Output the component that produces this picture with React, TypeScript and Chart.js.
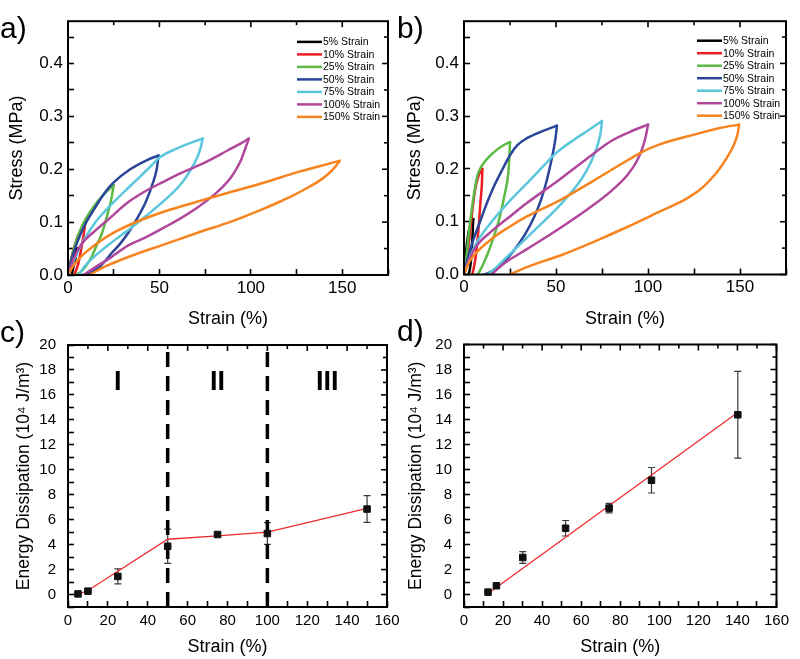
import React, { useEffect, useRef } from "react";
import { Chart, registerables } from "chart.js";
Chart.register(...registerables);

const CW = 800;
const CH = 659;
const FONT = "'Liberation Sans', Arial, Helvetica, sans-serif";

// ---------- Panels a & b : stress-strain hysteresis loops ----------
const strainLabels = ["5% Strain", "10% Strain", "25% Strain", "50% Strain", "75% Strain", "100% Strain", "150% Strain"];
const loopColors = ["#000000", "#ed1c24", "#5cb946", "#2b4699", "#5bc6dc", "#b0479d", "#f6841f"];

// panel a: [strain %, stress MPa]
const a5Up = [[0, 0], [1.5, 0.02], [3, 0.035], [5, 0.05]];
const a5Down = [[5, 0.05], [4, 0.03], [3, 0.015], [2, 0]];
const a10Up = [[0, 0], [2, 0.035], [5, 0.07], [7.5, 0.088], [9.5, 0.1]];
const a10Down = [[9.5, 0.1], [8.5, 0.075], [7, 0.045], [5.5, 0.02], [4, 0.005], [3, 0]];
const a25Up = [[0, 0], [2.5, 0.04], [5, 0.07], [7.3, 0.09], [10, 0.108], [14.6, 0.132], [20, 0.154], [25, 0.17]];
const a25Down = [[25, 0.17], [23.5, 0.14], [22, 0.12], [18.5, 0.078], [15.5, 0.055], [13, 0.035], [10, 0.018], [7, 0.006], [4, 0]];
const a50Up = [[0, 0], [2, 0.03], [5.4, 0.065], [10, 0.1], [14.6, 0.126], [20, 0.155], [25, 0.175], [34, 0.2], [43, 0.217], [49.5, 0.226]];
const a50Down = [[49.5, 0.226], [48.5, 0.2], [46, 0.17], [42.5, 0.138], [38, 0.108], [33, 0.08], [28, 0.057], [24, 0.042], [18, 0.018], [12, 0.005], [8, 0]];
const a75Up = [[0, 0], [3.5, 0.03], [8, 0.062], [14.6, 0.098], [20, 0.12], [25, 0.138], [33, 0.165], [40, 0.188], [46.5, 0.21], [50, 0.222], [60, 0.24], [67, 0.25], [73.7, 0.258]];
const a75Down = [[73.7, 0.258], [72.5, 0.24], [70.9, 0.224], [67.3, 0.2], [61.8, 0.172], [52.7, 0.141], [43.5, 0.114], [34.4, 0.089], [25.2, 0.065], [16.1, 0.04], [8.8, 0.015], [6, 0]];
const a100Up = [[0, 0], [3, 0.03], [7.3, 0.058], [14.6, 0.083], [22, 0.105], [33, 0.138], [42, 0.158], [51.5, 0.175], [62, 0.193], [75, 0.213], [87, 0.235], [95, 0.25], [98.9, 0.258]];
const a100Down = [[98.9, 0.258], [96.5, 0.235], [94.7, 0.218], [92, 0.2], [89.2, 0.185], [85, 0.168], [80, 0.152], [71, 0.128], [62, 0.108], [52.7, 0.09], [43, 0.072], [33, 0.056], [22, 0.03], [14.6, 0.014], [8.5, 0]];
const a150Up = [[0, 0], [3, 0.018], [6.9, 0.034], [16, 0.06], [25, 0.08], [34.4, 0.096], [52.7, 0.12], [71, 0.139], [89, 0.157], [107.5, 0.175], [126, 0.195], [140, 0.208], [148.6, 0.216]];
const a150Down = [[148.6, 0.216], [146, 0.204], [142, 0.19], [137, 0.177], [131, 0.165], [124, 0.152], [116, 0.139], [107.5, 0.126], [89.2, 0.101], [70.9, 0.08], [52.7, 0.058], [34.4, 0.036], [21.6, 0.018], [11.5, 0]];

// panel b
const b5Up = [[0, 0], [1, 0.04], [2.5, 0.08], [4, 0.1], [5, 0.105]];
const b5Down = [[5, 0.105], [4.6, 0.07], [4, 0.035], [3.2, 0.01], [2.5, 0]];
const b10Up = [[0, 0], [1.5, 0.03], [3, 0.07], [4.5, 0.12], [6, 0.16], [8, 0.188], [10, 0.2]];
const b10Down = [[10, 0.2], [9.7, 0.17], [9, 0.14], [8.2, 0.1], [7.2, 0.06], [6, 0.025], [4.5, 0]];
const b25Up = [[0, 0], [1.5, 0.04], [3, 0.09], [4.5, 0.13], [6, 0.165], [7.5, 0.19], [9.5, 0.205], [12, 0.217], [16, 0.231], [21, 0.244], [25, 0.251]];
const b25Down = [[25, 0.251], [24.7, 0.225], [24, 0.19], [22, 0.15], [19.5, 0.11], [16.5, 0.075], [13.5, 0.045], [10.5, 0.02], [7.5, 0]];
const b50Up = [[0, 0], [2, 0.03], [5, 0.065], [8.7, 0.1], [12.4, 0.135], [16, 0.165], [21, 0.2], [25, 0.226], [29, 0.245], [34, 0.258], [43, 0.272], [50.5, 0.282]];
const b50Down = [[50.5, 0.282], [49.8, 0.26], [48.6, 0.235], [46.8, 0.205], [44.5, 0.172], [41.5, 0.138], [38, 0.108], [33, 0.075], [27, 0.045], [20, 0.018], [14, 0.004], [11, 0]];
const b75Up = [[0, 0], [4, 0.04], [8, 0.067], [15, 0.1], [25, 0.14], [34, 0.172], [43, 0.205], [50, 0.23], [60, 0.256], [67, 0.272], [75, 0.291]];
const b75Down = [[75, 0.291], [74.3, 0.27], [73, 0.25], [70.5, 0.225], [66.5, 0.196], [61.4, 0.169], [52.3, 0.132], [43.2, 0.1], [34.2, 0.07], [25, 0.039], [18, 0.015], [13, 0]];
const b100Up = [[0, 0], [3, 0.03], [7, 0.055], [16, 0.085], [25, 0.11], [34, 0.135], [52, 0.18], [70, 0.228], [80, 0.253], [90, 0.27], [100, 0.284]];
const b100Down = [[100, 0.284], [98.8, 0.262], [97, 0.24], [94.1, 0.216], [88.7, 0.188], [79.6, 0.157], [70.5, 0.132], [52.3, 0.088], [34.2, 0.048], [21.4, 0.02], [15, 0]];
const b150Up = [[0, 0], [2, 0.018], [5.1, 0.035], [16, 0.07], [25, 0.091], [34.2, 0.11], [52.3, 0.141], [70.5, 0.178], [88.7, 0.216], [97.7, 0.234], [106.8, 0.247], [125, 0.265], [139.5, 0.278], [149.5, 0.284]];
const b150Down = [[149.5, 0.284], [148.8, 0.268], [147.5, 0.253], [145.5, 0.237], [143, 0.222], [139, 0.201], [134, 0.18], [128, 0.16], [120, 0.142], [106.8, 0.12], [88.7, 0.09], [70.5, 0.062], [52.3, 0.036], [34.2, 0.014], [25, 0]];

const aLoading = [a5Up, a10Up, a25Up, a50Up, a75Up, a100Up, a150Up];
const aUnloading = [a5Down, a10Down, a25Down, a50Down, a75Down, a100Down, a150Down];
const bLoading = [b5Up, b10Up, b25Up, b50Up, b75Up, b100Up, b150Up];
const bUnloading = [b5Down, b10Down, b25Down, b50Down, b75Down, b100Down, b150Down];

const loopXTicks = [0, 50, 100, 150];
const loopXMinor = [25, 75, 125, 175];
const loopYTicks = [0, 0.1, 0.2, 0.3, 0.4];
const loopYMinor = [0.05, 0.15, 0.25, 0.35, 0.45];

// ---------- Panels c & d : energy dissipation ----------
const cStrain = [5, 10, 25, 50, 75, 100, 150];
const cEnergy = [0.05, 0.27, 1.45, 3.87, 4.81, 4.89, 6.85];
const cError = [0.05, 0.1, 0.6, 1.37, 0.15, 0.87, 1.07];
const cFitStrain = [5, 10, 50, 75, 100, 150];
const cFitEnergy = [0.02, 0.32, 4.43, 4.7, 5.0, 6.9];
const cBoundaries = [50, 100];
const regionNames = ["I", "II", "III"];
const regionCenters = [25, 75, 130];
const regionLevel = 17;

const dStrain = [12.3, 16.6, 30.1, 52, 74.3, 96, 140.2];
const dEnergy = [0.19, 0.7, 2.96, 5.3, 6.91, 9.14, 14.38];
const dError = [0.1, 0.1, 0.47, 0.62, 0.38, 1.02, 3.47];
const dFitStrain = [12.5, 140.5];
const dFitEnergy = [0.1, 14.6];

const edXTicks = [0, 20, 40, 60, 80, 100, 120, 140, 160];
const edXMinor = [10, 30, 50, 70, 90, 110, 130, 150];
const edYTicks = [0, 2, 4, 6, 8, 10, 12, 14, 16, 18, 20];
const edYMinor = [-1, 1, 3, 5, 7, 9, 11, 13, 15, 17, 19];

const pts = (arr: number[][]) => arr.map(([x, y]) => ({ x, y }));
const zip = (xs: number[], ys: number[]) => xs.map((x, i) => ({ x, y: ys[i] }));

const TICK_IN = 6;

// ---------- shared helpers ----------
function baseOptions(p: any) {
  const yLH = p.yTitleSize * 1.2;
  const xLH = p.xTitleSize * 1.2;
  const yLeft = p.yTitleX - yLH / 2;
  const xBottom = p.xTitleY + xLH / 2;
  const allX = [...p.xTicks, ...p.xMinor].sort((a: number, b: number) => a - b);
  const allY = [...p.yTicks, ...p.yMinor].sort((a: number, b: number) => a - b);
  const grid = {
    display: true,
    drawOnChartArea: false,
    drawTicks: true,
    tickLength: -TICK_IN,
    tickWidth: 1.6,
    tickColor: "#000",
    color: "#000",
  };
  return {
    responsive: false,
    animation: false,
    events: [],
    layout: { padding: { left: yLeft, top: p.top, right: CW - p.right, bottom: CH - xBottom } },
    plugins: { legend: { display: false }, tooltip: { enabled: false } },
    scales: {
      x: {
        type: "linear",
        position: "bottom",
        min: p.xMin,
        max: p.xMax,
        afterBuildTicks: (s: any) => { s.ticks = allX.map((v: number) => ({ value: v })); },
        afterFit: (s: any) => { s.height = xBottom - p.bottom; },
        grid,
        border: { display: false },
        ticks: {
          color: "#000", font: { family: FONT, size: p.tickSize }, padding: p.xPad + TICK_IN, maxRotation: 0, autoSkip: false,
          callback: (v: any) => (p.xTicks.includes(v) ? String(v) : ""),
        },
        title: { display: true, text: p.xTitle, color: "#000", font: { family: FONT, size: p.xTitleSize }, padding: 0 },
      },
      y: {
        type: "linear",
        position: "left",
        min: p.yMin,
        max: p.yMax,
        afterBuildTicks: (s: any) => { s.ticks = allY.map((v: number) => ({ value: v })); },
        afterFit: (s: any) => { s.width = p.left - yLeft; },
        grid,
        border: { display: false },
        ticks: {
          color: "#000", font: { family: FONT, size: p.tickSize }, padding: p.yPad + TICK_IN, autoSkip: false,
          callback: (v: any) => (p.yTicks.includes(v) ? p.yFmt(v) : ""),
        },
        title: { display: true, text: p.yTitle, color: "#000", font: { family: FONT, size: p.yTitleSize }, padding: 0 },
      },
    },
  };
}

function framePlugin(p: any) {
  return {
    id: "axisFrame",
    afterDraw(chart: any) {
      const ctx = chart.ctx;
      const ca = chart.chartArea;
      const L = ca.left, R = ca.right, T = ca.top, B = ca.bottom;
      const sx = chart.scales.x;
      const sy = chart.scales.y;
      const xMin = sx.min, xMax = sx.max, yMin = sy.min, yMax = sy.max;
      const toX = (v: number) => L + ((v - xMin) / (xMax - xMin)) * (R - L);
      const toY = (v: number) => B - ((v - yMin) / (yMax - yMin)) * (B - T);
      ctx.save();
      ctx.setLineDash([]);
      ctx.strokeStyle = "#000";
      ctx.lineWidth = 1.6;
      const xGroups: any[] = [[p.xTicks, 6], [p.xMinor, 4]];
      const yGroups: any[] = [[p.yTicks, 6], [p.yMinor, 4]];
      xGroups.forEach((g) => {
        g[0].forEach((v: number) => {
          const px = toX(v);
          ctx.beginPath();
          ctx.moveTo(px, T);
          ctx.lineTo(px, T + g[1]);
          ctx.stroke();
        });
      });
      yGroups.forEach((g) => {
        g[0].forEach((v: number) => {
          const py = toY(v);
          ctx.beginPath();
          ctx.moveTo(R, py);
          ctx.lineTo(R - g[1], py);
          ctx.stroke();
        });
      });
      ctx.lineWidth = 2;
      ctx.strokeRect(L, T, R - L, B - T);
      ctx.fillStyle = "#000";
      ctx.font = `30px ${FONT}`;
      ctx.textBaseline = "alphabetic";
      ctx.textAlign = "left";
      ctx.fillText(p.label, p.labelX, p.labelY);
      ctx.restore();
    },
  };
}

function legendPlugin(dx: number, dy: number) {
  return {
    id: "loopLegend",
    afterDraw(chart: any) {
      const { ctx, chartArea } = chart;
      ctx.save();
      ctx.font = `10.5px ${FONT}`;
      ctx.textBaseline = "middle";
      ctx.fillStyle = "#000";
      strainLabels.forEach((lab, i) => {
        const yy = chartArea.top + dy + i * 12.5;
        const x0 = chartArea.right - dx;
        ctx.strokeStyle = loopColors[i];
        ctx.lineWidth = 2.5;
        ctx.beginPath();
        ctx.moveTo(x0, yy);
        ctx.lineTo(x0 + 25, yy);
        ctx.stroke();
        ctx.fillText(lab, x0 + 26, yy + 0.5);
      });
      ctx.restore();
    },
  };
}

function errorBarPlugin(xs: number[], ys: number[], es: number[]) {
  return {
    id: "errorBars",
    beforeDatasetsDraw(chart: any) {
      const { ctx } = chart;
      const x = chart.scales.x;
      const y = chart.scales.y;
      ctx.save();
      ctx.strokeStyle = "#3a3a3a";
      ctx.lineWidth = 1.2;
      ctx.beginPath();
      xs.forEach((v, i) => {
        const px = x.getPixelForValue(v);
        const t = y.getPixelForValue(ys[i] + es[i]);
        const b = y.getPixelForValue(ys[i] - es[i]);
        ctx.moveTo(px, t); ctx.lineTo(px, b);
        ctx.moveTo(px - 3.5, t); ctx.lineTo(px + 3.5, t);
        ctx.moveTo(px - 3.5, b); ctx.lineTo(px + 3.5, b);
      });
      ctx.stroke();
      ctx.restore();
    },
  };
}

const regionPlugin = {
  id: "regions",
  afterDatasetsDraw(chart: any) {
    const { ctx } = chart;
    const x = chart.scales.x;
    const y = chart.scales.y;
    ctx.save();
    ctx.fillStyle = "#000";
    ctx.font = `bold 27px ${FONT}`;
    ctx.textAlign = "center";
    ctx.textBaseline = "middle";
    regionNames.forEach((n, i) => ctx.fillText(n, x.getPixelForValue(regionCenters[i]), y.getPixelForValue(regionLevel)));
    ctx.restore();
  },
};

function loopDatasets(loading: number[][][], unloading: number[][][]) {
  const ds: any[] = [];
  loading.forEach((up, i) => {
    [up, unloading[i]].forEach((branch) => {
      ds.push({
        data: pts(branch),
        showLine: true,
        borderColor: loopColors[i],
        backgroundColor: loopColors[i],
        borderWidth: 2.5,
        pointRadius: 0,
        cubicInterpolationMode: "monotone",
        tension: 0.4,
        borderCapStyle: "round",
        borderJoinStyle: "round",
        fill: false,
        order: 20 - i,
      });
    });
  });
  return ds;
}

function loopConfig(which: "a" | "b") {
  const isA = which === "a";
  const box = isA
    ? { left: 68, right: 388, top: 15, bottom: 275, yTitleX: 17, xTitleY: 319.5 }
    : { left: 464, right: 786, top: 14, bottom: 274.5, yTitleX: 415, xTitleY: 319.5 };
  const opts = baseOptions({
    ...box,
    xMin: 0, xMax: 175, yMin: 0, yMax: 0.48,
    xTicks: loopXTicks, xMinor: loopXMinor, yTicks: loopYTicks, yMinor: loopYMinor,
    yFmt: (v: any) => Number(v).toFixed(1),
    xTitle: "Strain (%)", yTitle: "Stress (MPa)",
    tickSize: 17, xTitleSize: 18, yTitleSize: 18, xPad: 3, yPad: 5,
  });
  return {
    type: "scatter",
    data: { datasets: isA ? loopDatasets(aLoading, aUnloading) : loopDatasets(bLoading, bUnloading) },
    options: opts,
    plugins: [
      legendPlugin(isA ? 91 : 89, isA ? 20.7 : 19.5),
      framePlugin({ xTicks: loopXTicks, xMinor: loopXMinor, yTicks: loopYTicks, yMinor: loopYMinor, label: isA ? "a)" : "b)", labelX: isA ? 0 : 397, labelY: 38 }),
    ],
  };
}

function energyConfig(which: "c" | "d") {
  const isC = which === "c";
  const box = isC
    ? { left: 68, right: 387, top: 345, bottom: 607, yTitleX: 24.5, xTitleY: 647 }
    : { left: 464, right: 786, top: 344.5, bottom: 607, yTitleX: 416.5, xTitleY: 647 };
  const opts = baseOptions({
    ...box,
    xMin: 0, xMax: 160, yMin: -1, yMax: 20,
    xTicks: edXTicks, xMinor: edXMinor, yTicks: edYTicks, yMinor: edYMinor,
    yFmt: (v: any) => String(v),
    xTitle: "Strain (%)", yTitle: "Energy Dissipation (10\u2074 J/m\u00B3)",
    tickSize: 15, xTitleSize: 18, yTitleSize: 17.5, xPad: 5, yPad: 12,
  });
  const xs = isC ? cStrain : dStrain;
  const ys = isC ? cEnergy : dEnergy;
  const es = isC ? cError : dError;
  const datasets: any[] = [
    {
      data: zip(xs, ys),
      pointStyle: "rect",
      pointRadius: 4.6,
      pointBackgroundColor: "#111",
      pointBorderColor: "#111",
      pointBorderWidth: 1,
      showLine: false,
      order: 1,
    },
    {
      data: isC ? zip(cFitStrain, cFitEnergy) : zip(dFitStrain, dFitEnergy),
      showLine: true,
      borderColor: "#ee2b2b",
      borderWidth: 1.3,
      pointRadius: 0,
      tension: 0,
      order: 2,
    },
  ];
  if (isC) {
    cBoundaries.forEach((b) => {
      datasets.push({
        data: [{ x: b, y: -1 }, { x: b, y: 20 }],
        showLine: true,
        borderColor: "#000",
        borderWidth: 3.5,
        borderDash: [15, 9],
        pointRadius: 0,
        order: 3,
      });
    });
  }
  const plugins: any[] = [errorBarPlugin(xs, ys, es)];
  if (isC) plugins.push(regionPlugin);
  plugins.push(framePlugin({ xTicks: edXTicks, xMinor: edXMinor, yTicks: edYTicks, yMinor: edYMinor, label: isC ? "c)" : "d)", labelX: isC ? 0 : 397, labelY: isC ? 342 : 341 }));
  return { type: "scatter", data: { datasets }, options: opts, plugins };
}

function Panel({ build }: { build: () => any }) {
  const ref = useRef<HTMLCanvasElement | null>(null);
  useEffect(() => {
    if (!ref.current) return;
    const chart = new Chart(ref.current, build());
    return () => chart.destroy();
  }, []);
  return (
    <canvas
      ref={ref}
      width={CW}
      height={CH}
      style={{ position: "absolute", left: 0, top: 0, width: CW, height: CH }}
    />
  );
}

export default function App() {
  return (
    <div style={{ position: "absolute", left: 0, top: 0, width: CW, height: CH, background: "#fff", overflow: "hidden" }}>
      <Panel build={() => loopConfig("a")} />
      <Panel build={() => loopConfig("b")} />
      <Panel build={() => energyConfig("c")} />
      <Panel build={() => energyConfig("d")} />
    </div>
  );
}
